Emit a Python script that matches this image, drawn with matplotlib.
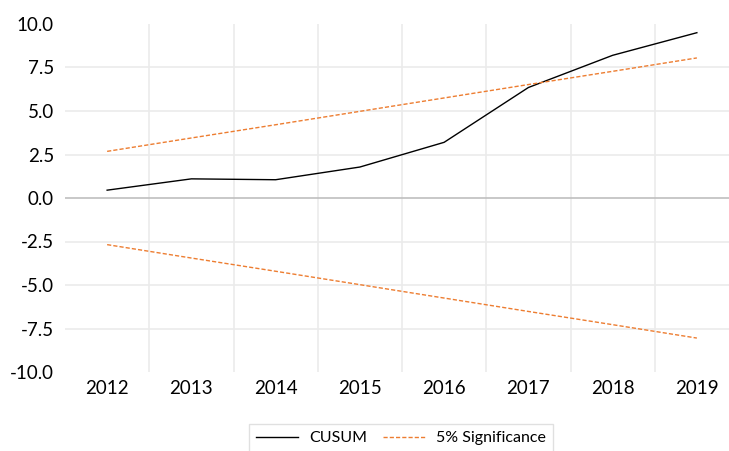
import matplotlib.pyplot as plt

plt.rcParams['font.family'] = ['Lato', 'DejaVu Sans']

years = ['2012', '2013', '2014', '2015', '2016', '2017', '2018', '2019']
cusum = [0.45, 1.10, 1.05, 1.78, 3.20, 6.35, 8.20, 9.50]
upper = [2.68, 3.45, 4.21, 4.98, 5.75, 6.52, 7.28, 8.05]
lower = [-2.68, -3.45, -4.21, -4.98, -5.75, -6.52, -7.28, -8.05]
yticks = [10.0, 7.5, 5.0, 2.5, 0.0, -2.5, -5.0, -7.5, -10.0]

fig = plt.figure(figsize=(7.29, 4.51), dpi=100)
# plot area runs a little past the right edge, like the cropped original
ax = fig.add_axes([65 / 729, (451 - 372) / 451, 674 / 729, 348 / 451])

x = list(range(len(years)))
ax.plot(x, cusum, color='black', lw=1.0, label='CUSUM', zorder=3)
ax.plot(x, upper, color='#ED7D31', lw=1.0, ls=(0, (3, 1.5)), label='5% Significance', zorder=3)
ax.plot(x, lower, color='#ED7D31', lw=1.0, ls=(0, (3, 1.5)), zorder=3)

ax.set_xlim(-0.5, len(years) - 0.5)
ax.set_ylim(-10, 10)

# gridlines
for v in yticks[1:-1]:
    if v == 0:
        ax.axhline(0, color='#bfbfbf', lw=1.2, zorder=2)
    else:
        ax.axhline(v, color='#ebebeb', lw=1.2, zorder=1)
for i in range(1, len(years)):
    ax.axvline(i - 0.5, color='#ebebeb', lw=1.2, zorder=1)

ax.set_xticks(x)
ax.set_xticklabels(years)
ax.set_yticks(yticks)
ax.set_yticklabels(['%.1f' % v for v in yticks])
ax.tick_params(length=0, labelsize=13.5, colors='black')
ax.tick_params(axis='y', pad=8)
ax.tick_params(axis='x', pad=6)
for s in ax.spines.values():
    s.set_visible(False)

leg = fig.legend(loc='upper center', bbox_to_anchor=(401 / 729, (451 - 424) / 451),
                 ncol=2, frameon=True, fontsize=11.5, handlelength=2.6,
                 handletextpad=0.7, columnspacing=1.0, borderpad=0.45,
                 borderaxespad=0, fancybox=False)
leg.get_frame().set_edgecolor('#d9d9d9')
leg.get_frame().set_linewidth(1.0)

fig.savefig('out.png', dpi=100)
